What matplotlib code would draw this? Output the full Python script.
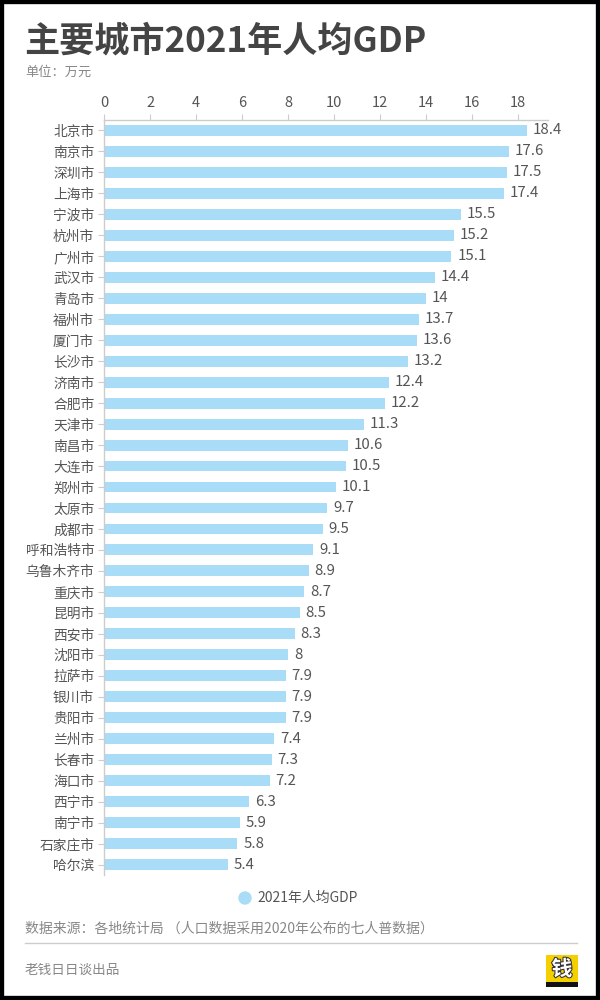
import matplotlib.pyplot as plt
import matplotlib.patheffects as pe
from matplotlib.patches import Rectangle, Ellipse
from matplotlib.lines import Line2D

plt.rcParams['font.family'] = ['Noto Sans CJK SC', 'DejaVu Sans']

cities = ['北京市', '南京市', '深圳市', '上海市', '宁波市', '杭州市', '广州市', '武汉市',
          '青岛市', '福州市', '厦门市', '长沙市', '济南市', '合肥市', '天津市', '南昌市',
          '大连市', '郑州市', '太原市', '成都市', '呼和浩特市', '乌鲁木齐市', '重庆市', '昆明市',
          '西安市', '沈阳市', '拉萨市', '银川市', '贵阳市', '兰州市', '长春市', '海口市',
          '西宁市', '南宁市', '石家庄市', '哈尔滨']
gdp = [18.4, 17.6, 17.5, 17.4, 15.5, 15.2, 15.1, 14.4,
       14, 13.7, 13.6, 13.2, 12.4, 12.2, 11.3, 10.6,
       10.5, 10.1, 9.7, 9.5, 9.1, 8.9, 8.7, 8.5,
       8.3, 8, 7.9, 7.9, 7.9, 7.4, 7.3, 7.2,
       6.3, 5.9, 5.8, 5.4]
xticks = [0, 2, 4, 6, 8, 10, 12, 14, 16, 18]

BAR = '#a8dcf7'
DARK = '#444444'
GREY = '#555555'
LIGHT = '#888888'

fig = plt.figure(figsize=(6, 10), dpi=100)
ax = fig.add_axes([104 / 600, 0.125, 444 / 600, 0.755])

y = range(len(cities))
ax.barh(y, gdp, height=0.52, color=BAR)
for i, v in enumerate(gdp):
    ax.text(v + 0.25, i, f'{v:g}', va='center', ha='left', fontsize=10.8, color=GREY)

ax.set_xlim(0, 19.3)
ax.set_ylim(len(cities) - 0.5, -0.5)
ax.set_yticks(list(y))
ax.set_yticklabels(cities, fontsize=9.9, color=GREY)
ax.set_xticks(xticks)
ax.set_xticklabels([str(t) for t in xticks], fontsize=10.5, color=GREY)
ax.xaxis.tick_top()
ax.tick_params(axis='x', length=4, color='#cccccc', pad=3)
ax.tick_params(axis='y', length=4, color='#cccccc', pad=3)
for s in ['right', 'bottom']:
    ax.spines[s].set_visible(False)
for s in ['top', 'left']:
    ax.spines[s].set_color('#cccccc')
    ax.spines[s].set_linewidth(1)

# title block
fig.text(24 / 600, 1 - 41 / 1000, '主要城市2021年人均GDP', fontsize=25.3, fontweight='bold',
         color=DARK, va='center', ha='left')
fig.text(25 / 600, 1 - 72 / 1000, '单位：万元', fontsize=9.5, color=LIGHT, va='center', ha='left')

# legend
fig.patches.append(Ellipse((245 / 600, 1 - 898 / 1000), 12 / 600, 12 / 1000,
                           transform=fig.transFigure, color=BAR, figure=fig))
fig.text(257 / 600, 1 - 898 / 1000, '2021年人均GDP', fontsize=10, color=GREY,
         va='center', ha='left')

# footer
fig.text(25 / 600, 1 - 929 / 1000, '数据来源：各地统计局 （人口数据采用2020年公布的七人普数据）',
         fontsize=10, color=LIGHT, va='center', ha='left')
fig.lines.append(Line2D([25 / 600, 577 / 600], [1 - 943 / 1000, 1 - 943 / 1000],
                        transform=fig.transFigure, color='#cccccc', lw=1))
fig.text(25 / 600, 1 - 970 / 1000, '老钱日日谈出品', fontsize=9.8, color=LIGHT,
         va='center', ha='left')

# little logo
fig.patches.append(Rectangle((546 / 600, 1 - 987 / 1000), 32 / 600, 32 / 1000,
                             transform=fig.transFigure, facecolor='#f5d000',
                             edgecolor='none', figure=fig))
fig.patches.append(Rectangle((546 / 600, 1 - 987 / 1000), 32 / 600, 5 / 1000,
                             transform=fig.transFigure, facecolor='#111111',
                             edgecolor='none', figure=fig))
fig.text(562 / 600, 1 - 969 / 1000, '钱', fontsize=15, fontweight='bold', color='white',
         va='center', ha='center',
         path_effects=[pe.withStroke(linewidth=1.5, foreground='#333333')])

# black frame
fig.patches.append(Rectangle((0, 0), 1, 1, transform=fig.transFigure, fill=False,
                             edgecolor='black', linewidth=6, figure=fig))

fig.savefig('out.png', dpi=100, facecolor='white')
